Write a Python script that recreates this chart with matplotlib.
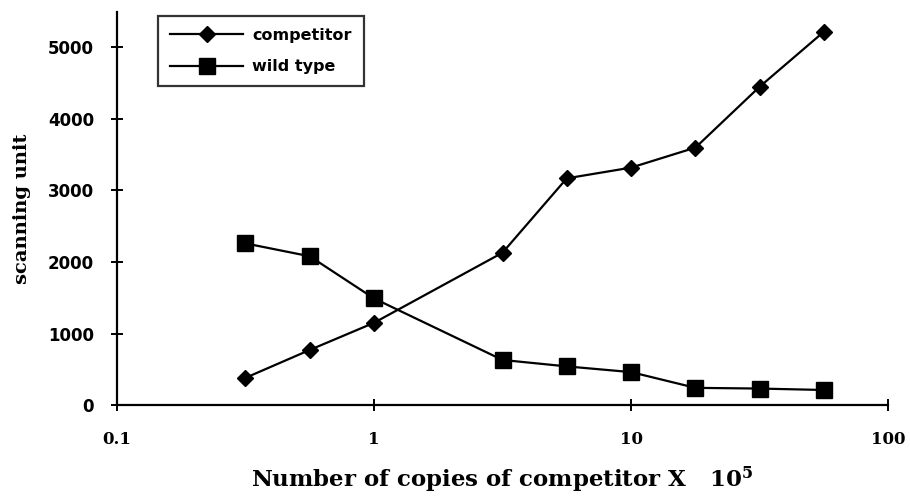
import matplotlib
matplotlib.use("Agg")
import matplotlib.pyplot as plt
from matplotlib.ticker import FixedLocator, NullLocator

plt.rcParams["mathtext.fontset"] = "dejavuserif"

copies = [0.316, 0.562, 1.0, 3.16, 5.62, 10.0, 17.8, 31.6, 56.2]
competitor = [380, 770, 1150, 2130, 3170, 3320, 3600, 4450, 5220]
wild_type = [2260, 2080, 1490, 630, 540, 460, 240, 230, 210]

x_ticks = [0.1, 1, 10, 100]
x_tick_labels = ["0.1", "1", "10", "100"]
y_ticks = [0, 1000, 2000, 3000, 4000, 5000]

fig = plt.figure(figsize=(9.1, 5.01), dpi=100)
ax = fig.add_axes([0.1286, 0.1916, 0.8474, 0.785])

ax.plot(copies, competitor, color="black", lw=1.6, marker="D", ms=8,
        label="competitor")
ax.plot(copies, wild_type, color="black", lw=1.6, marker="s", ms=12,
        label="wild type")

ax.set_xscale("log")
ax.set_xlim(0.1, 100)
ax.set_ylim(0, 5500)

for side in ("top", "right"):
    ax.spines[side].set_visible(False)
for side in ("left", "bottom"):
    ax.spines[side].set_linewidth(1.6)

ax.xaxis.set_major_locator(FixedLocator(x_ticks))
ax.xaxis.set_minor_locator(NullLocator())
ax.set_xticks(x_ticks)
ax.set_xticklabels(x_tick_labels, fontfamily="DejaVu Serif",
                   fontweight="bold", fontsize=12)
ax.set_yticks(y_ticks)
ax.set_yticklabels([str(v) for v in y_ticks], fontfamily="DejaVu Sans",
                   fontweight="bold", fontsize=12)
ax.tick_params(axis="both", direction="inout", length=9, width=1.4,
               colors="black")
ax.tick_params(axis="x", pad=14)
ax.tick_params(axis="y", pad=12)

ax.set_ylabel("scanning unit", fontfamily="DejaVu Serif",
              fontweight="bold", fontsize=14, labelpad=12)
ax.set_xlabel(r"Number of copies of competitor X   $\mathbf{10}^{\mathbf{5}}$",
              fontfamily="DejaVu Serif", fontweight="bold", fontsize=16.5,
              labelpad=12)

leg = ax.legend(loc="upper left", bbox_to_anchor=(0.053, 0.99),
                frameon=True, fancybox=False, handlelength=4.6,
                borderpad=0.75, labelspacing=1.05, handletextpad=0.55,
                borderaxespad=0.0,
                prop={"family": "DejaVu Sans", "weight": "bold",
                      "size": 11.5})
leg.get_frame().set_edgecolor("black")
leg.get_frame().set_linewidth(1.6)

fig.savefig("out.png", dpi=100)
